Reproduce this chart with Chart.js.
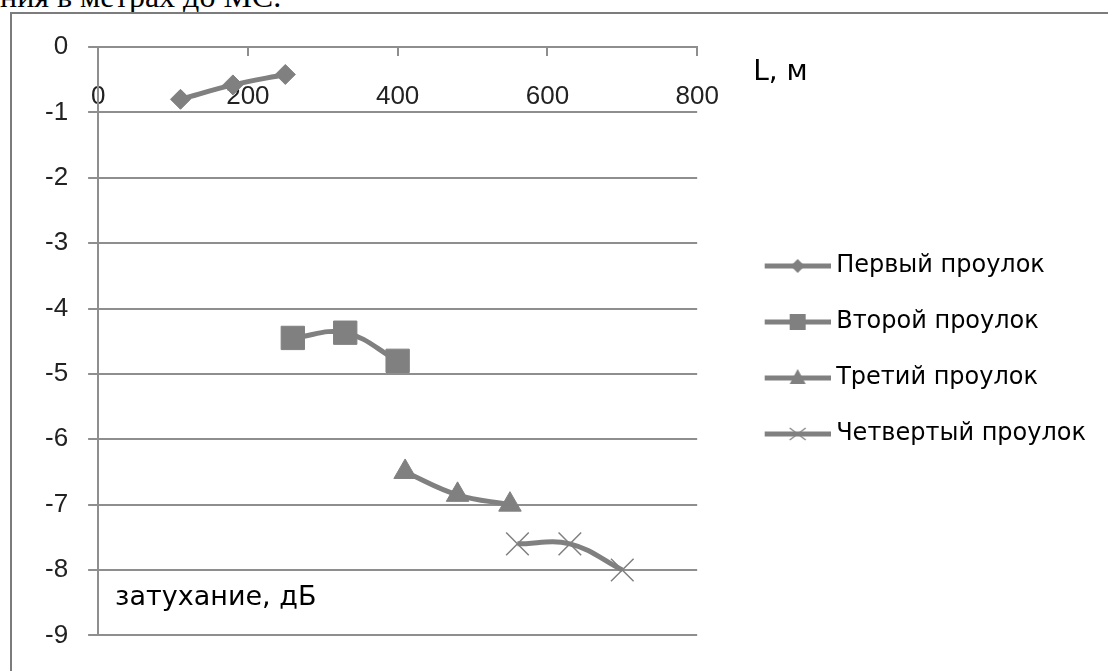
<!DOCTYPE html>
<html>
<head>
<meta charset="utf-8">
<script src="https://cdn.jsdelivr.net/npm/chart.js@4"></script>
<style>
  html, body { margin: 0; padding: 0; background: #fff; overflow: hidden; }
  #caption { position: absolute; left: 0; top: -20px; font: 32px/32px "Liberation Serif", serif; color: #000; white-space: nowrap; }
  #frame { position: absolute; left: 10px; top: 12px; width: 1200px; height: 800px; border: 2px solid #7c7c7c; }
  #wrap { position: absolute; left: 0; top: 0; width: 1108px; height: 671px; }
</style>
</head>
<body>
<div id="caption">ния в метрах до МС.</div>
<div id="frame"></div>
<div id="wrap"><canvas id="chart" width="1108" height="671"></canvas></div>
<script>
// values
var seriesNames = ['Первый проулок', 'Второй проулок', 'Третий проулок', 'Четвертый проулок'];
var firstX = [110, 180, 250];
var firstY = [-0.8, -0.58, -0.42];
var secondX = [260, 330, 400];
var secondY = [-4.45, -4.37, -4.8];
var thirdX = [410, 480, 550];
var thirdY = [-6.5, -6.85, -7.0];
var fourthX = [560, 630, 700];
var fourthY = [-7.6, -7.6, -8.0];
var xTicks = [0, 200, 400, 600, 800];
var yTicks = [0, -1, -2, -3, -4, -5, -6, -7, -8, -9];
var xTitle = 'L, м';
var yTitle = 'затухание, дБ';

var gray = '#808080';
var gridGray = '#8e8e8e';

function points(xs, ys) {
  return xs.map(function (x, i) { return {x: x, y: ys[i]}; });
}

// legend icon: line with the marker in the middle, like the office legend
function makeIcon(style) {
  var c = document.createElement('canvas');
  c.width = 108;
  c.height = 28;
  var g = c.getContext('2d');
  g.strokeStyle = gray;
  g.fillStyle = gray;
  g.lineWidth = 5;
  g.beginPath();
  g.moveTo(42, 14);
  g.lineTo(108, 14);
  g.stroke();
  var cx = 75, cy = 14;
  g.beginPath();
  if (style == 'rectRot') {
    g.moveTo(cx, cy - 7); g.lineTo(cx + 7, cy); g.lineTo(cx, cy + 7); g.lineTo(cx - 7, cy);
    g.closePath(); g.fill();
  } else if (style == 'rect') {
    g.fillRect(cx - 8, cy - 8, 16, 16);
  } else if (style == 'triangle') {
    g.moveTo(cx, cy - 9); g.lineTo(cx + 8, cy + 6); g.lineTo(cx - 8, cy + 6);
    g.closePath(); g.fill();
  } else {
    g.lineWidth = 1.2;
    g.moveTo(cx - 8, cy - 6); g.lineTo(cx + 8, cy + 6);
    g.moveTo(cx - 8, cy + 6); g.lineTo(cx + 8, cy - 6);
    g.stroke();
  }
  return c;
}

var markerStyles = ['rectRot', 'rect', 'triangle', 'crossRot'];
var markerRadius = [10, 16.5, 13, 16];
var legendIcons = markerStyles.map(makeIcon);

var axisTitles = {
  id: 'axisTitles',
  afterDraw: function (chart) {
    var ctx = chart.ctx, area = chart.chartArea, y = chart.scales.y;
    ctx.save();
    ctx.fillStyle = '#000';
    ctx.textAlign = 'left';
    ctx.textBaseline = 'alphabetic';
    ctx.font = '28px "DejaVu Sans"';
    ctx.fillText(xTitle, area.right + 56, y.getPixelForValue(0) + 33);
    ctx.font = '27px "DejaVu Sans"';
    ctx.fillText(yTitle, area.left + 17, y.getPixelForValue(-8) + 35);
    ctx.restore();
  }
};

var allX = [firstX, secondX, thirdX, fourthX];
var allY = [firstY, secondY, thirdY, fourthY];

var datasets = seriesNames.map(function (name, i) {
  return {
    label: name,
    data: points(allX[i], allY[i]),
    showLine: true,
    borderColor: gray,
    backgroundColor: gray,
    borderWidth: 5,
    tension: 0.4,
    pointStyle: markerStyles[i],
    pointRadius: markerRadius[i],
    pointBorderWidth: markerStyles[i] == 'crossRot' ? 1.5 : 1,
    pointBorderColor: gray,
    pointBackgroundColor: gray
  };
});

new Chart(document.getElementById('chart'), {
  type: 'scatter',
  data: { datasets: datasets },
  options: {
    responsive: false,
    animation: false,
    layout: { padding: { top: 47, bottom: 28, left: 25, right: 12 } },
    plugins: {
      tooltip: { enabled: false },
      legend: {
        position: 'right',
        align: 'center',
        maxWidth: 600,
        // empty title only nudges the items down a little
        title: { display: true, text: '', font: { size: 10, lineHeight: 1 }, padding: 0 },
        labels: {
          usePointStyle: true,
          pointStyleWidth: 95,
          padding: 32,
          color: '#000',
          font: { family: 'DejaVu Sans', size: 24 },
          generateLabels: function (chart) {
            return chart.data.datasets.map(function (ds, i) {
              return { text: ds.label, pointStyle: legendIcons[i], fontColor: '#000', datasetIndex: i, hidden: false, lineWidth: 0 };
            });
          }
        }
      }
    },
    scales: {
      x: {
        type: 'linear',
        position: { y: 0 },
        min: xTicks[0],
        max: xTicks[xTicks.length - 1],
        z: 1,
        afterBuildTicks: function (axis) { axis.ticks = xTicks.map(function (v) { return {value: v}; }); },
        ticks: { autoSkip: false, padding: 26, color: '#222', font: { family: 'Liberation Sans', size: 26 } },
        grid: { drawOnChartArea: false, tickLength: 8, color: gridGray, lineWidth: 2 },
        border: { color: gridGray, width: 2 }
      },
      y: {
        type: 'linear',
        position: 'left',
        min: yTicks[yTicks.length - 1],
        max: yTicks[0],
        afterBuildTicks: function (axis) { axis.ticks = yTicks.map(function (v) { return {value: v}; }); },
        ticks: { padding: 20, color: '#222', font: { family: 'Liberation Sans', size: 26 } },
        grid: { tickLength: 10, color: gridGray, lineWidth: 2 },
        border: { color: gridGray, width: 2 }
      }
    }
  },
  plugins: [axisTitles]
});
</script>
</body>
</html>
